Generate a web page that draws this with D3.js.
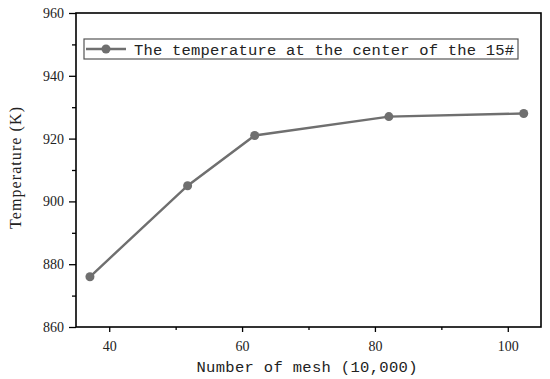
<!DOCTYPE html>
<html><head><meta charset="utf-8">
<script src="https://cdn.jsdelivr.net/npm/d3@7"></script>
<style>body{margin:0;background:#fff}svg{display:block}</style>
</head><body>
<script>
const meshCounts = [37.1, 51.8, 61.9, 82.1, 102.4];
const temperatures = [876, 905, 921, 927, 928];
const seriesName = "The temperature at the center of the 15#";
const xTicks = [40, 60, 80, 100];
const yTicks = [860, 880, 900, 920, 940, 960];
const xLabel = "Number of mesh (10,000)";
const yLabel = "Temperature (K)";

const W = 550, H = 379;
const m = {l: 76, t: 13, r: 9, b: 52};
const svg = d3.select("body").append("svg").attr("width", W).attr("height", H);
const x = d3.scaleLinear().domain([35, 105]).range([m.l, W - m.r]);
const y = d3.scaleLinear().domain([860, 960]).range([H - m.b, m.t]);
const serif = "'Liberation Serif','DejaVu Serif',serif";
const mono = "'Liberation Mono','DejaVu Sans Mono',monospace";
const col = "#6f6f6f";

// minor ticks
const gxm = svg.append("g").attr("transform", `translate(0,${H - m.b})`)
  .call(d3.axisBottom(x).tickValues([50, 70, 90]).tickSize(3).tickFormat(""));
gxm.select(".domain").remove();
const gym = svg.append("g").attr("transform", `translate(${m.l},0)`)
  .call(d3.axisLeft(y).tickValues([870, 890, 910, 930, 950]).tickSize(4).tickFormat(""));
gym.select(".domain").remove();

const gx = svg.append("g").attr("transform", `translate(0,${H - m.b})`)
  .call(d3.axisBottom(x).tickValues(xTicks).tickSize(5).tickSizeOuter(0).tickPadding(9));
const gy = svg.append("g").attr("transform", `translate(${m.l},0)`)
  .call(d3.axisLeft(y).tickValues(yTicks).tickSize(7).tickSizeOuter(0).tickPadding(5));
[gx, gy, gxm, gym].forEach(g => {
  g.attr("font-family", null).attr("font-size", null);
  g.selectAll("line").attr("stroke", "#000").attr("stroke-width", 1.3);
  g.selectAll("text").style("font-family", serif).style("font-size", "14px").attr("fill", "#222");
});
gx.select(".domain").remove(); gy.select(".domain").remove();

// frame
svg.append("rect").attr("x", m.l).attr("y", m.t)
  .attr("width", W - m.r - m.l).attr("height", H - m.b - m.t)
  .attr("fill", "none").attr("stroke", "#000").attr("stroke-width", 1.6);

const data = meshCounts.map((d, i) => ({x: d, y: temperatures[i]}));
svg.append("path").datum(data)
  .attr("d", d3.line().x(d => x(d.x)).y(d => y(d.y)))
  .attr("fill", "none").attr("stroke", col).attr("stroke-width", 2.4);
svg.selectAll("circle.pt").data(data).join("circle").attr("class", "pt")
  .attr("cx", d => x(d.x)).attr("cy", d => y(d.y)).attr("r", 4.5).attr("fill", col);

// legend
const lg = svg.append("g");
lg.append("rect").attr("x", 84).attr("y", 39).attr("width", 434).attr("height", 20)
  .attr("fill", "#fff").attr("stroke", "#555").attr("stroke-width", 1.2);
lg.append("line").attr("x1", 86).attr("x2", 126).attr("y1", 49).attr("y2", 49)
  .attr("stroke", col).attr("stroke-width", 2.4);
lg.append("circle").attr("cx", 106).attr("cy", 49).attr("r", 4.5).attr("fill", col);
lg.append("text").attr("x", 134).attr("y", 54.5).text(seriesName)
  .style("font-family", mono).style("font-size", "15.5px").attr("textLength", 380).attr("fill", "#222");

svg.append("text").attr("x", 307).attr("y", 372).attr("text-anchor", "middle").text(xLabel)
  .style("font-family", mono).style("font-size", "15.5px").attr("textLength", 221).attr("fill", "#222");
svg.append("text").attr("transform", "translate(21,168) rotate(-90)").attr("text-anchor", "middle")
  .text(yLabel).style("font-family", serif).style("font-size", "16px").attr("textLength", 122).attr("fill", "#222");
</script>
</body></html>
